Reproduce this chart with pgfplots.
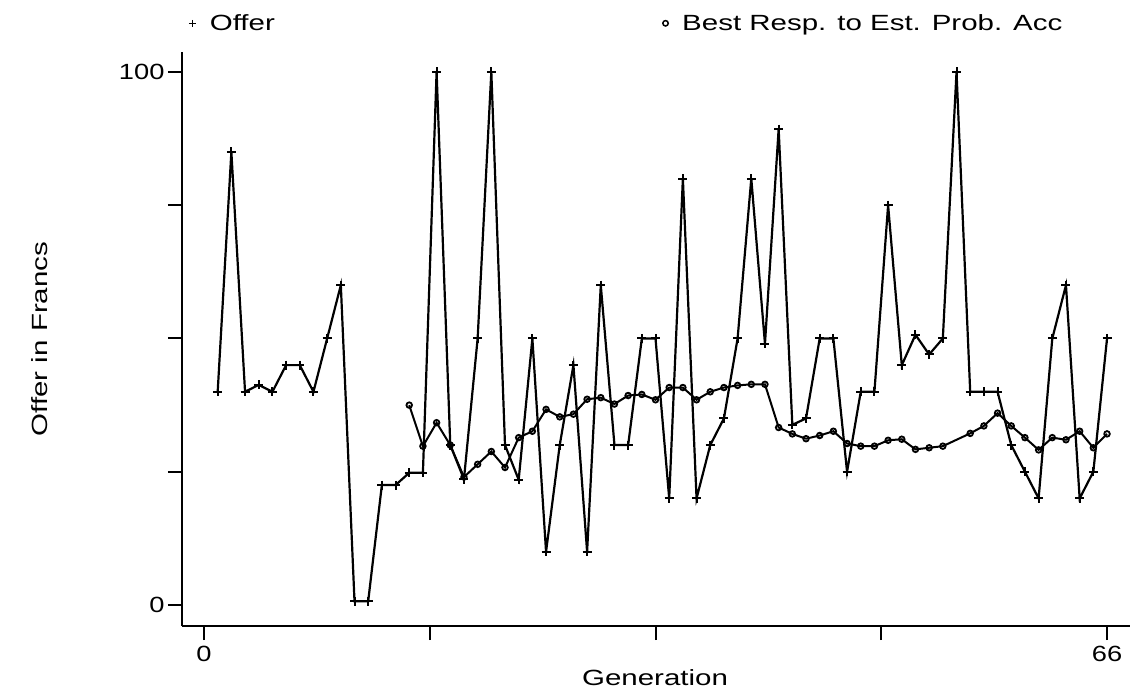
\documentclass[border=0pt]{standalone}
\usepackage{pgfplots}
\pgfplotsset{compat=1.18}
\usepackage{fontspec}
\setmainfont{Liberation Sans}
\newcommand{\sx}[1]{\scalebox{1.34}[1]{#1}}
\newcommand{\sd}[1]{\scalebox{1.24}[1]{#1}}
\begin{document}
\begin{tikzpicture}
\path[use as bounding box] (0,0) rectangle (1131pt,694pt);
\begin{axis}[
 at={(182pt,68pt)}, anchor=south west,
 scale only axis, width=948pt, height=574pt,
 xmin=-1.608, xmax=67.68, ymin=-3.94, ymax=103.75,
 axis x line=bottom, axis y line=left,
 axis line style={-, line width=2.2pt},
 tick align=outside, major tick length=14pt,
 tick style={line width=2pt, black},
 xtick={0,16.5,33,49.5,66}, xticklabels={\sd{0},,,,\sd{66}},
 ytick={0,25,50,75,100}, yticklabels={\sd{0},,,,\sd{100}},
 ticklabel style={font=\fontsize{22}{26}\selectfont},
 xticklabel style={yshift=-3pt},
 label style={font=\fontsize{22}{26}\selectfont},
 xlabel={\sx{Generation}}, ylabel={\sx{Offer in Francs}},
 xlabel style={at={(axis description cs:0.499,-0.0906)}, anchor=center},
 ylabel style={at={(axis description cs:-0.1498,0.5)}, anchor=center},
 legend columns=2,
 legend cell align=left,
 legend style={draw=none, fill=none, at={(axis description cs:0.007,1.050)}, anchor=west,
   font=\fontsize{22}{26}\selectfont, inner sep=0pt,
   /tikz/every odd column/.append style={column sep=12pt},
   /tikz/every even column/.append style={column sep=386pt}},
]
\addplot[black, line width=2.2pt, mark=+, mark size=4.5pt, mark options={line width=2pt},
  legend image code/.code={\draw[black, mark=+, mark size=3.5pt, mark options={line width=1.5pt}] plot coordinates {(0pt,0pt)};}]
coordinates {
(1,40)(2,85)(3,40)(4,41.3)(5,40)(6,45)(7,45)(8,40)(9,50)(10,60)
(11,0.7)(12,0.7)(13,22.5)(14,22.5)(15,24.8)(16,24.8)(17,100)(18,30)(19,23.6)(20,50)
(21,100)(22,30)(23,23.5)(24,50)(25,10)(26,30)(27,45)(28,10)(29,60)(30,30)
(31,30)(32,50)(33,50)(34,20)(35,80)(36,20)(37,30)(38,35)(39,50)(40,80)
(41,49)(42,89.3)(43,33.8)(44,35)(45,50)(46,50)(47,25)(48,40)(49,40)(50,75)
(51,45)(52,50.7)(53,47)(54,50)(55,100)(56,40)(57,40)(58,40)(59,30)(60,25)
(61,20)(62,50)(63,60)(64,20)(65,25)(66,50)
};
\addlegendentry{\sx{Offer}}
\addplot[black, line width=2pt, mark=o, mark size=2.8pt, mark options={line width=1.8pt, fill=white},
  legend image code/.code={\draw[black, mark=o, mark size=2.7pt, mark options={line width=1.5pt}] plot coordinates {(0pt,0pt)};}]
coordinates {
(15,37.5)(16,29.8)(17,34.2)(18,30)(19,24)(20,26.4)(21,28.8)(22,25.8)(23,31.4)(24,32.6)
(25,36.7)(26,35.3)(27,35.8)(28,38.6)(29,38.9)(30,37.7)(31,39.3)(32,39.5)(33,38.5)(34,40.8)
(35,40.8)(36,38.5)(37,40)(38,40.8)(39,41.2)(40,41.4)(41,41.4)(42,33.3)(43,32.1)(44,31.2)
(45,31.8)(46,32.6)(47,30.3)(48,29.8)(49,29.8)(50,30.9)(51,31.1)(52,29.2)(53,29.5)(54,29.8)
(56,32.2)(57,33.6)(58,36)(59,33.6)(60,31.4)(61,29.1)(62,31.4)(63,31)(64,32.6)(65,29.5)(66,32.1)
};
\addlegendentry{\sx{Best Resp. to Est. Prob. Acc}}
\end{axis}
\end{tikzpicture}
\end{document}
